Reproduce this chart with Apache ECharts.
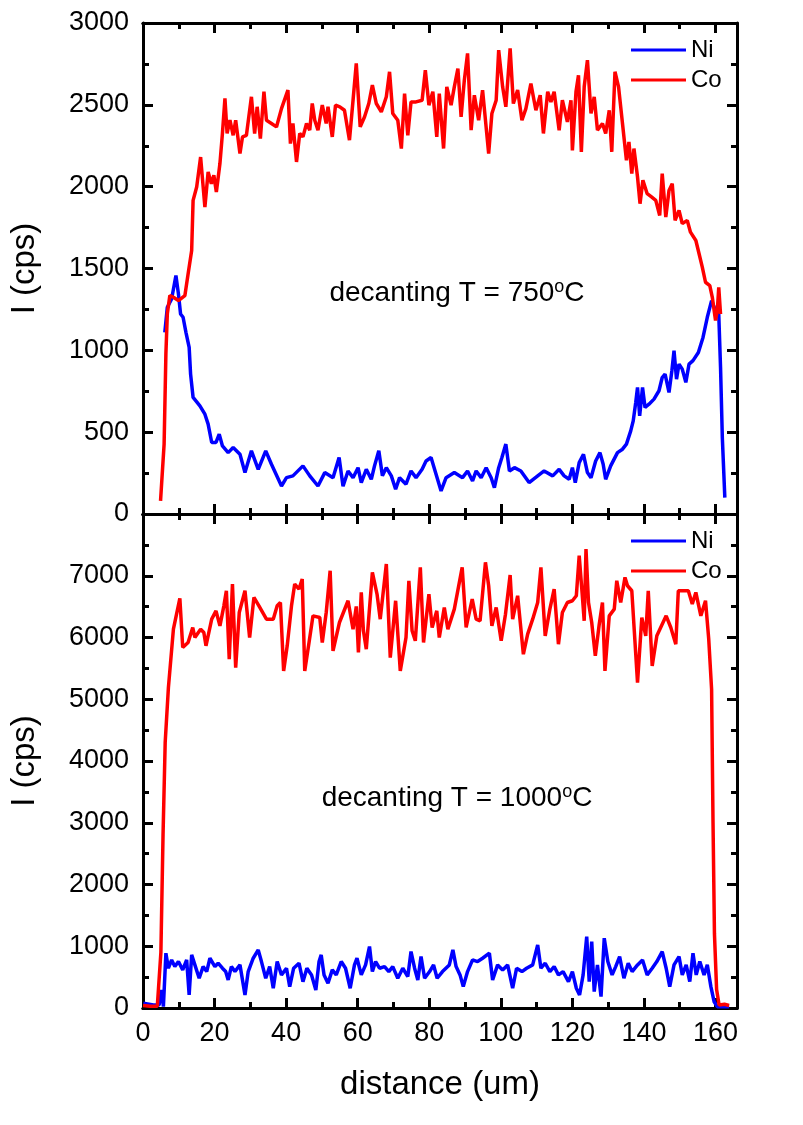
<!DOCTYPE html>
<html>
<head>
<meta charset="utf-8">
<script src="https://cdn.jsdelivr.net/npm/echarts@6/dist/echarts.min.js"></script>
<style>
html,body{margin:0;padding:0;background:#fff;}
#chart{width:803px;height:1125px;}
</style>
</head>
<body>
<div id="chart"></div>
<script>
// ---- Data (distance in um, intensity in cps) ----
var coTopX = [4.9,5.9,6.4,6.8,7.5,8.5,9.9,11.7,12.6,13.6,14.0,15.0,16.1,17.3,18.2,19.1,19.8,20.5,21.5,22.2,22.9,23.5,24.3,25.2,25.9,27.1,27.8,28.9,30.3,31.2,31.9,32.8,33.8,34.5,35.9,37.3,38.7,40.5,41.2,41.9,42.9,43.8,44.7,45.7,46.6,47.3,48.0,48.9,50.1,51.2,51.7,52.9,53.8,55.0,56.3,57.7,58.7,59.6,60.7,61.9,63.1,64.1,65.2,66.6,68.0,68.9,69.8,71.2,72.2,73.1,74.0,74.9,76.3,78.0,78.9,79.9,81.0,82.1,82.8,84.0,84.9,86.1,87.0,88.0,88.9,89.8,90.7,91.7,92.6,93.8,94.9,96.6,97.5,98.7,99.4,100.5,101.4,102.6,103.5,104.7,105.9,107.0,108.4,109.8,111.0,111.9,113.1,114.0,114.9,116.3,117.2,118.6,119.6,120.0,121.0,121.7,122.5,123.3,124.2,125.2,126.1,127.0,128.4,129.3,130.3,131.0,131.9,132.9,134.0,135.1,135.8,136.6,137.2,138.2,138.9,139.7,140.9,142.1,143.3,144.4,145.1,146.1,147.0,147.9,148.7,149.8,150.7,152.1,153.0,154.5,155.4,156.3,157.2,158.4,159.1,160.0,160.5,160.9,161.4];
var coTopY = [80,427,980,1224,1335,1324,1304,1334,1467,1610,1916,1998,2181,1875,2090,2018,2069,1967,2141,2325,2539,2325,2406,2314,2406,2202,2304,2314,2549,2325,2488,2294,2580,2406,2386,2365,2477,2590,2263,2386,2151,2325,2304,2386,2345,2508,2406,2345,2498,2386,2488,2304,2498,2488,2467,2284,2528,2753,2365,2426,2508,2620,2508,2457,2549,2702,2447,2406,2233,2569,2314,2518,2518,2528,2712,2498,2580,2304,2569,2233,2610,2498,2610,2722,2426,2651,2814,2345,2559,2406,2590,2202,2447,2528,2834,2610,2488,2845,2508,2590,2406,2477,2630,2467,2559,2325,2580,2518,2580,2345,2528,2396,2528,2222,2580,2681,2212,2610,2773,2447,2549,2345,2386,2325,2467,2212,2702,2610,2386,2161,2273,2080,2233,2059,1896,2039,1957,1937,1916,1824,2080,1814,1977,2018,1794,1855,1774,1794,1722,1671,1590,1508,1416,1396,1324,1182,1243,1385,1222];

var niTopX = [6.1,6.8,8.0,9.2,9.9,10.5,11.2,12.0,12.9,13.3,14.0,15.9,17.3,18.2,19.2,20.4,21.3,22.2,23.8,25.2,27.1,28.5,30.3,32.2,34.3,35.9,38.7,40.1,41.9,44.7,46.6,48.9,50.8,53.1,54.8,55.9,57.3,58.7,60.1,61.0,62.4,63.8,64.7,65.9,66.9,68.0,69.4,70.6,71.7,73.5,74.9,76.3,78.0,79.1,80.5,81.9,83.3,84.7,87.0,89.3,90.7,92.1,93.1,94.5,95.9,97.3,98.2,99.4,100.3,101.4,102.4,103.8,105.6,107.9,110.3,112.1,114.5,116.3,117.7,119.1,120.0,120.8,121.9,123.1,124.2,125.2,126.5,127.7,128.6,129.3,130.7,132.6,134.0,135.1,136.3,137.0,137.7,138.2,138.8,139.6,140.3,141.4,142.8,144.2,145.1,145.9,147.0,147.8,148.4,149.1,149.8,150.7,151.7,152.6,153.7,155.2,156.5,157.7,158.9,160.0,160.9,161.4,161.9,162.6];
var niTopY = [1110,1263,1314,1457,1345,1222,1202,1110,1018,855,712,661,610,549,437,437,488,416,375,406,365,253,386,273,386,304,171,222,233,294,233,171,253,222,345,170,263,222,283,192,273,212,294,386,233,283,233,151,222,182,263,222,273,324,345,243,141,222,253,222,263,202,263,222,283,222,161,283,345,427,263,283,263,192,233,263,233,273,233,212,283,192,314,365,253,222,324,375,304,212,294,375,396,427,508,569,681,773,600,773,651,671,702,753,834,855,743,875,998,824,916,885,804,916,937,987,1079,1202,1304,1243,1222,896,467,100];

var coBotX = [0.0,2.0,4.0,4.4,5.0,5.6,6.2,7.1,8.5,10.3,11.1,12.6,13.9,14.5,16.1,17.0,17.6,19.2,20.4,21.5,22.6,23.3,24.1,25.0,25.9,26.9,28.5,29.8,31.0,32.4,34.5,36.4,37.5,38.4,39.3,40.3,41.5,42.4,43.6,44.5,45.2,46.4,47.5,49.4,50.1,51.2,52.3,53.1,54.9,57.3,58.7,59.6,60.2,61.0,61.6,62.4,64.1,65.4,66.3,68.0,69.1,70.6,71.9,73.5,74.3,75.2,76.1,77.5,78.4,79.9,80.8,82.1,82.8,84.2,85.2,87.0,89.2,90.3,92.0,93.1,94.2,95.7,96.6,97.5,98.7,100.1,101.3,102.6,103.3,104.7,106.3,107.5,108.9,110.3,111.2,112.4,113.7,114.9,116.1,117.2,118.6,120.0,121.1,121.9,122.7,123.3,123.8,124.5,125.4,126.4,127.5,128.4,129.1,130.3,131.7,132.4,133.5,134.7,135.4,136.6,138.2,139.4,140.5,141.2,142.3,143.6,144.9,146.2,147.5,148.9,149.6,151.2,152.4,153.5,154.5,155.9,157.2,158.1,158.9,159.3,159.7,160.3,161.0,162.5,163.8];
var coBotY = [40,30,30,60,900,2800,4300,5189,6135,6633,5838,5919,6162,6000,6135,6081,5865,6297,6432,6189,6513,6757,5648,6865,5513,6405,6757,6000,6649,6513,6297,6297,6513,6567,5459,5865,6513,6865,6784,6946,5459,5919,6351,6324,5919,6405,7081,5783,6243,6595,6135,6503,5757,6730,6108,5810,7054,6703,6297,7190,5675,6595,5459,6000,6919,6108,5946,7136,5919,6703,6162,6432,6000,6487,6135,6459,7136,6162,6622,6297,6270,7217,6838,6189,6487,5946,6378,7011,6297,6676,5729,6054,6297,6567,7136,6027,6459,6784,5892,6405,6567,6595,6676,7325,6730,6270,7433,6567,6243,5702,6216,6567,5459,6351,6459,6919,6567,6973,6838,6757,5270,6324,6027,6757,5540,6027,6189,6351,6162,5892,6757,6757,6757,6541,6730,6351,6595,5973,5162,3000,1200,300,50,60,40];

var niBotX = [0.1,2.9,4.5,5.2,5.7,6.4,7.1,8.0,8.9,9.9,11.1,12.2,12.9,13.6,14.5,15.7,16.8,17.8,18.7,20.1,21.0,22.2,23.1,23.8,24.7,25.7,27.1,28.5,29.4,30.8,32.2,33.1,34.3,35.4,36.4,37.5,38.7,40.1,41.0,42.1,43.6,44.7,45.8,47.1,48.3,49.2,49.8,50.6,51.7,52.9,54.0,55.4,56.6,57.9,59.1,59.8,61.0,62.2,63.3,64.1,65.0,66.1,67.5,68.7,69.8,71.2,72.6,74.0,74.9,75.9,76.8,77.7,78.7,80.1,81.2,82.2,83.7,85.6,86.6,87.5,88.6,89.5,90.7,92.1,93.5,94.9,96.8,97.7,99.1,100.5,101.9,103.3,104.4,105.9,107.2,108.9,110.3,111.2,112.4,113.7,114.9,116.1,117.4,118.9,120.0,121.1,122.0,123.0,124.0,124.7,125.4,126.1,127.0,128.0,128.9,129.9,131.1,132.1,133.2,134.4,135.6,136.7,138.2,139.6,140.9,142.3,143.6,145.1,146.2,147.2,148.4,149.8,150.7,151.8,152.8,153.7,154.6,155.6,156.8,157.7,158.7,159.6,160.5,163.8];
var niBotY = [76,49,49,292,22,888,644,779,671,752,617,779,211,860,698,482,671,590,806,671,725,644,590,454,671,590,698,211,590,806,941,752,482,671,320,752,536,644,346,644,725,427,644,536,292,752,860,536,400,617,536,752,644,320,698,806,536,698,995,590,752,644,671,590,671,482,644,508,914,644,454,833,482,590,698,482,590,698,941,671,536,346,590,779,752,806,888,454,698,617,698,320,644,590,644,698,1022,644,725,590,671,536,590,427,590,320,211,536,1157,427,1076,265,698,184,1131,752,536,671,833,482,725,590,698,779,536,644,752,914,644,346,698,833,536,698,427,888,536,752,536,698,346,102,22,22];

var xTicks = [0, 20, 40, 60, 80, 100, 120, 140, 160];
var yTopTicks = [0, 500, 1000, 1500, 2000, 2500, 3000];
var yBotTicks = [0, 1000, 2000, 3000, 4000, 5000, 6000, 7000];
var seriesNames = ['Ni', 'Co'];
var panelLabels = ['750', '1000'];

function pairs(xs, ys) { return xs.map(function (x, i) { return [x, ys[i]]; }); }

var FONT = 'Liberation Sans, Arial, sans-serif';
var BLACK = '#000';
var X_MAX = 166;

function xAx(grid, pos, interval, len, showLabel, name) {
  return {
    type: 'value', gridIndex: grid, position: pos, min: 0, max: X_MAX, interval: interval,
    axisLine: { show: true, onZero: false, lineStyle: { color: BLACK, width: 3 } },
    axisTick: { show: true, inside: true, length: len, lineStyle: { color: BLACK, width: 3 } },
    axisLabel: {
      show: showLabel, color: BLACK, fontSize: 27, fontFamily: FONT, margin: 12,
      showMaxLabel: false,
      formatter: function (v) { return xTicks.indexOf(v) >= 0 ? String(v) : ''; }
    },
    splitLine: { show: false },
    name: name || '', nameLocation: 'middle', nameGap: 60,
    nameTextStyle: { color: BLACK, fontSize: 33, fontFamily: FONT }
  };
}
function yAx(grid, pos, max, interval, ticks, showLabel) {
  return {
    type: 'value', gridIndex: grid, position: pos, min: 0, max: max, interval: interval,
    axisLine: { show: true, onZero: false, lineStyle: { color: BLACK, width: 3 } },
    axisTick: { show: true, inside: true, length: 10, lineStyle: { color: BLACK, width: 3 } },
    minorTick: { show: true, splitNumber: 2, length: 6, lineStyle: { color: BLACK, width: 3 } },
    axisLabel: {
      show: showLabel, color: BLACK, fontSize: 27, fontFamily: FONT, margin: 14,
      formatter: function (v) { return ticks.indexOf(v) >= 0 ? String(v) : ''; }
    },
    splitLine: { show: false },
    name: showLabel ? 'I (cps)' : '', nameLocation: 'middle', nameGap: 102,
    nameTextStyle: { color: BLACK, fontSize: 33, fontFamily: FONT }
  };
}

function legend(top) {
  return {
    orient: 'vertical', left: 631, top: top, data: seriesNames, icon: 'rect',
    itemWidth: 55, itemHeight: 3, itemGap: 6, padding: 0, selectedMode: false,
    textStyle: { color: BLACK, fontSize: 24, fontFamily: FONT, lineHeight: 24, padding: [0, 0, 0, 0] }
  };
}

function label(txt, x, y) {
  return {
    type: 'text', x: x, y: y, z: 10,
    style: {
      text: '{a|decanting T = ' + txt + '}{s|o}{a|C}',
      align: 'center', verticalAlign: 'middle',
      rich: {
        a: { fontSize: 28, fontFamily: FONT, fill: BLACK, lineHeight: 30 },
        s: { fontSize: 18, fontFamily: FONT, fill: BLACK, lineHeight: 18, verticalAlign: 'top' }
      }
    }
  };
}

var LW = 3.5;
var chart = echarts.init(document.getElementById('chart'), null, { renderer: 'canvas' });
chart.setOption({
  animation: false,
  backgroundColor: '#fff',
  textStyle: { fontFamily: FONT },
  grid: [
    { left: 143, width: 594, top: 23, height: 491 },
    { left: 143, width: 594, top: 514, height: 494 }
  ],
  xAxis: [
    xAx(0, 'bottom', 20, 10, false),
    xAx(0, 'bottom', 10, 6, false),
    xAx(0, 'top', 20, 10, false),
    xAx(0, 'top', 10, 6, false),
    xAx(1, 'bottom', 20, 10, true, 'distance (um)'),
    xAx(1, 'bottom', 10, 6, false),
    xAx(1, 'top', 20, 10, false),
    xAx(1, 'top', 10, 6, false)
  ],
  yAxis: [
    yAx(0, 'left', 3000, 500, yTopTicks, true),
    yAx(0, 'right', 3000, 500, yTopTicks, false),
    yAx(1, 'left', 8000, 1000, yBotTicks, true),
    yAx(1, 'right', 8000, 1000, yBotTicks, false)
  ],
  legend: [legend(38), legend(529)],
  series: [
    { name: 'Ni', type: 'line', xAxisIndex: 0, yAxisIndex: 0, data: pairs(niTopX, niTopY), showSymbol: false, lineStyle: { color: '#0000FF', width: LW }, itemStyle: { color: '#0000FF' }, z: 3 },
    { name: 'Co', type: 'line', xAxisIndex: 0, yAxisIndex: 0, data: pairs(coTopX, coTopY), showSymbol: false, lineStyle: { color: '#FF0000', width: LW }, itemStyle: { color: '#FF0000' }, z: 4 },
    { name: 'Ni', type: 'line', xAxisIndex: 4, yAxisIndex: 2, data: pairs(niBotX, niBotY), showSymbol: false, lineStyle: { color: '#0000FF', width: LW }, itemStyle: { color: '#0000FF' }, z: 3 },
    { name: 'Co', type: 'line', xAxisIndex: 4, yAxisIndex: 2, data: pairs(coBotX, coBotY), showSymbol: false, lineStyle: { color: '#FF0000', width: LW }, itemStyle: { color: '#FF0000' }, z: 4 }
  ],
  graphic: [label(panelLabels[0], 457, 293), label(panelLabels[1], 457, 798)]
});
</script>
</body>
</html>
